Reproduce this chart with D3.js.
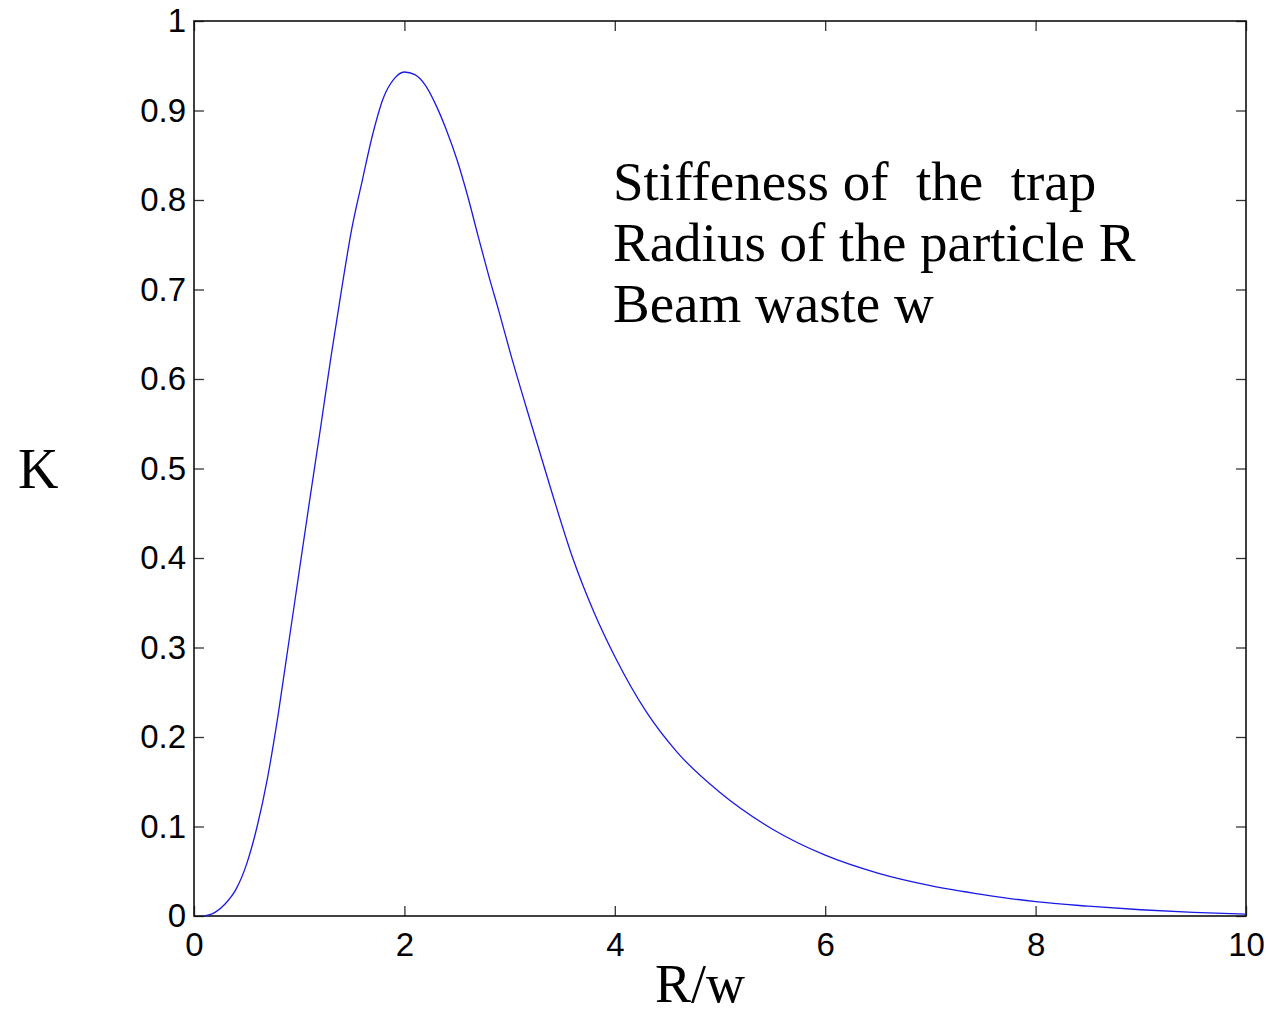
<!DOCTYPE html>
<html>
<head>
<meta charset="utf-8">
<script src="https://cdn.jsdelivr.net/npm/d3@7"></script>
<style>
  body { margin: 0; background: #fff; }
  svg { display: block; }
  .tick text { font-family: "Liberation Sans", Arial, sans-serif; }
</style>
</head>
<body>
<div id="chart"></div>
<script>
// values
const rw = [0.1, 0.2, 0.3, 0.4, 0.5, 0.6, 0.7, 0.8, 0.9, 1.0,
  1.1, 1.2, 1.3, 1.4, 1.5, 1.6, 1.7, 1.8, 1.9, 2.0,
  2.1, 2.2, 2.3, 2.4, 2.5, 2.6, 2.7, 2.8, 2.9, 3.0,
  3.2, 3.4, 3.6, 3.8, 4.0, 4.3, 4.6, 5.0, 5.5, 6.0,
  6.5, 7.0, 7.5, 8.0, 8.5, 9.0, 9.5, 10.0];
const K = [0.000, 0.004, 0.014, 0.030, 0.058, 0.100, 0.155, 0.225, 0.305, 0.385,
  0.465, 0.543, 0.623, 0.698, 0.768, 0.822, 0.874, 0.914, 0.935, 0.943,
  0.940, 0.928, 0.906, 0.878, 0.845, 0.805, 0.760, 0.716, 0.675, 0.632,
  0.552, 0.474, 0.400, 0.340, 0.290, 0.228, 0.182, 0.138, 0.097, 0.068,
  0.048, 0.034, 0.024, 0.016, 0.011, 0.007, 0.004, 0.002];
const xTicks = [0, 2, 4, 6, 8, 10];
const yTicks = [0, 0.1, 0.2, 0.3, 0.4, 0.5, 0.6, 0.7, 0.8, 0.9, 1];
const note = ["Stiffeness of  the  trap", "Radius of the particle R", "Beam waste w"];

const width = 1268, height = 1015;
const margin = {left: 194, right: 22, top: 21, bottom: 99};

const svg = d3.select("#chart").append("svg")
  .attr("width", width)
  .attr("height", height);

const x = d3.scaleLinear().domain([0, 10]).range([margin.left, width - margin.right]);
const y = d3.scaleLinear().domain([0, 1]).range([height - margin.bottom, margin.top]);

const tickLen = 10;

// bottom axis, ticks inside
svg.append("g")
  .attr("transform", `translate(0,${y(0)})`)
  .call(d3.axisBottom(x).tickValues(xTicks).tickSize(-tickLen).tickPadding(17).tickFormat(d3.format("d")));
// top ticks
svg.append("g")
  .attr("transform", `translate(0,${y(1)})`)
  .call(d3.axisTop(x).tickValues(xTicks).tickSize(-tickLen).tickFormat(""));
// left axis
svg.append("g")
  .attr("transform", `translate(${x(0)},0)`)
  .call(d3.axisLeft(y).tickValues(yTicks).tickSize(-tickLen).tickPadding(8).tickFormat(d => d === 0 || d === 1 ? d : d3.format(".1f")(d)));
// right ticks
svg.append("g")
  .attr("transform", `translate(${x(10)},0)`)
  .call(d3.axisRight(y).tickValues(yTicks).tickSize(-tickLen).tickFormat(""));

svg.selectAll(".domain").remove();
svg.selectAll(".tick line").attr("stroke", "#333").attr("stroke-width", 1.3);
svg.selectAll(".tick text").attr("font-size", 33).attr("fill", "#000");

// box
svg.append("rect")
  .attr("x", x(0)).attr("y", y(1))
  .attr("width", x(10) - x(0)).attr("height", y(0) - y(1))
  .attr("fill", "none").attr("stroke", "#111").attr("stroke-width", 1.6);

// curve
const line = d3.line()
  .x((d, i) => x(rw[i]))
  .y(d => y(d))
  .curve(d3.curveMonotoneX);

svg.append("path")
  .datum(K)
  .attr("d", line)
  .attr("fill", "none")
  .attr("stroke", "#1a1ae6")
  .attr("stroke-width", 1.3);

// labels
svg.append("text")
  .attr("x", 18).attr("y", 488)
  .attr("font-family", "Liberation Serif, Times New Roman, serif")
  .attr("font-size", 56)
  .text("K");

svg.append("text")
  .attr("x", 700).attr("y", 1002)
  .attr("text-anchor", "middle")
  .attr("font-family", "Liberation Serif, Times New Roman, serif")
  .attr("font-size", 54)
  .text("R/w");

svg.append("g").selectAll("text")
  .data(note)
  .join("text")
  .attr("x", 613)
  .attr("y", (d, i) => 200 + i * 61)
  .attr("font-family", "Liberation Serif, Times New Roman, serif")
  .attr("font-size", 55)
  .style("white-space", "pre")
  .text(d => d);
</script>
</body>
</html>
